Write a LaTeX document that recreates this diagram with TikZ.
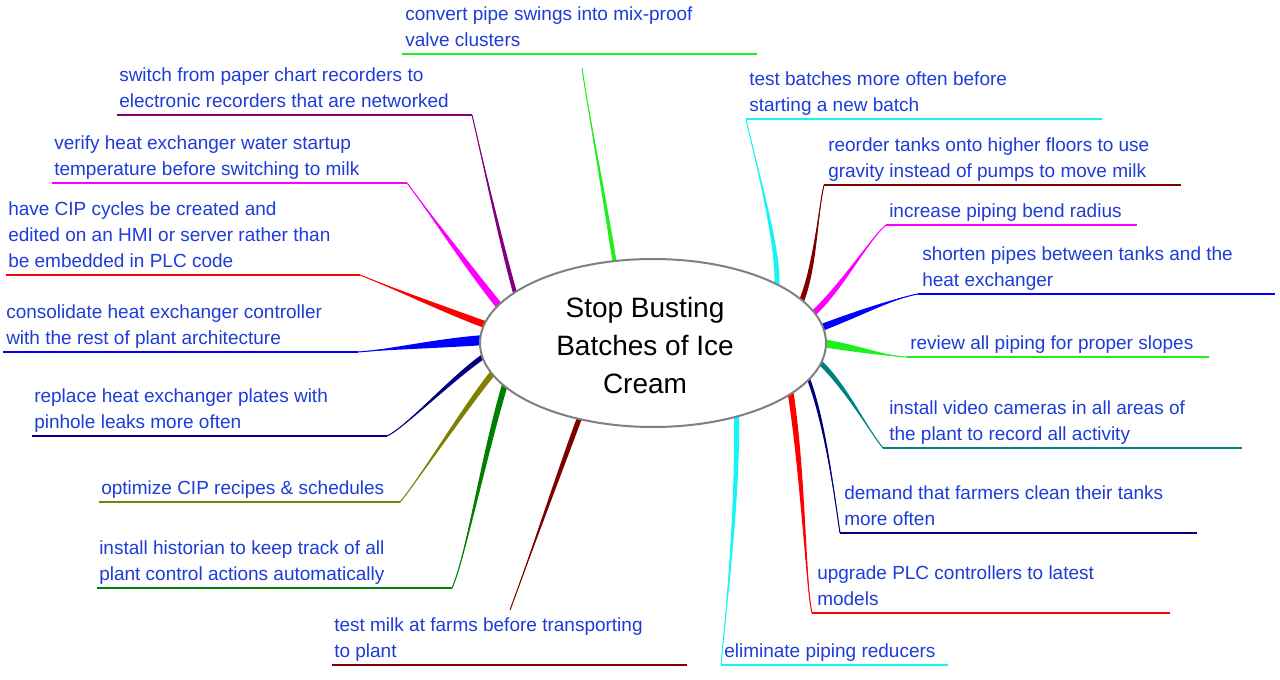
\documentclass[tikz,border=0pt]{standalone}
\usepackage{fontspec}
\setmainfont{Liberation Sans}
\usetikzlibrary{calc,shapes.geometric,backgrounds}
\definecolor{lblblue}{RGB}{30,60,215}
\definecolor{brgreen}{RGB}{30,240,30}
\definecolor{brpurple}{RGB}{128,0,128}
\definecolor{brmagenta}{RGB}{255,0,255}
\definecolor{brred}{RGB}{255,0,0}
\definecolor{brblue}{RGB}{0,0,255}
\definecolor{brnavy}{RGB}{0,0,128}
\definecolor{brolive}{RGB}{128,128,0}
\definecolor{brdkgreen}{RGB}{0,128,0}
\definecolor{brmaroon}{RGB}{128,0,0}
\definecolor{brcyan}{RGB}{20,245,245}
\definecolor{brteal}{RGB}{0,128,128}
\definecolor{hubgray}{RGB}{128,128,128}
% #1 colour, #2 start, #3 control 1, #4 control 2, #5 end, #6 half width
\newcommand\mmbranch[6]{%
  \fill[#1] ($(#2)!#6!90:(#3)$) .. controls ($(#3)!#6!-90:(#2)$) and (#4) .. (#5)
     .. controls (#4) and ($(#3)!#6!90:(#2)$) .. ($(#2)!#6!-90:(#3)$) -- cycle;
  \draw[#1, line width=0.75pt] (#2) .. controls (#3) and (#4) .. (#5);
}
\tikzset{
  lbl/.style={font=\fontsize{14.25pt}{19.5pt}\selectfont, text=lblblue, align=left,
    inner sep=0pt, anchor=south west, execute at end node=\strut},
  uline/.style={line width=1.5pt},
  hub/.style={ellipse, draw=hubgray, line width=1.5pt, fill=white, inner sep=0pt,
    minimum width=259.5pt, minimum height=126pt},
  title/.style={font=\fontsize{21pt}{28.5pt}\selectfont, align=center, inner sep=0pt}
}
\begin{document}
\begin{tikzpicture}[x=0.75pt,y=-0.75pt]
\useasboundingbox (0,0) rectangle (1280,680);

\node[hub] (center) at (653,343) {};
\node[title] (title) at (645,345) {Stop Busting\\Batches of Ice\\Cream};

% underline coordinates
\coordinate (u1a) at (402,54);  \coordinate (u1b) at (757,54);
\coordinate (u2a) at (117,115); \coordinate (u2b) at (472,115);
\coordinate (u3a) at (52,183);  \coordinate (u3b) at (407,183);
\coordinate (u4a) at (6,275);   \coordinate (u4b) at (360,275);
\coordinate (u5a) at (3,352);   \coordinate (u5b) at (358,352);
\coordinate (u6a) at (32,436);  \coordinate (u6b) at (387,436);
\coordinate (u7a) at (99,502);  \coordinate (u7b) at (400,502);
\coordinate (u8a) at (97,588);  \coordinate (u8b) at (452,588);
\coordinate (u9a) at (332,665); \coordinate (u9b) at (687,665);
\coordinate (u10a) at (721,665); \coordinate (u10b) at (948,665);
\coordinate (u11a) at (812,613); \coordinate (u11b) at (1170,613);
\coordinate (u12a) at (840,533); \coordinate (u12b) at (1197,533);
\coordinate (u13a) at (883,448); \coordinate (u13b) at (1242,448);
\coordinate (u14a) at (907,357); \coordinate (u14b) at (1209,357);
\coordinate (u15a) at (918,294); \coordinate (u15b) at (1275,294);
\coordinate (u16a) at (886,225); \coordinate (u16b) at (1137,225);
\coordinate (u17a) at (824,185); \coordinate (u17b) at (1181,185);
\coordinate (u18a) at (746,119); \coordinate (u18b) at (1102,119);
\coordinate (e1) at (582,68);
\coordinate (e9) at (510,610);

% branch start points on the hub
\foreach \i/\a in {1/116.3,2/161.1,3/167.7,4/174.0,5/179.0,6/184.7,7/190.1,8/195.8,9/225.4,
  10/320.5,11/341.0,12/348.1,13/354.7,14/0,15/5.3,16/10.3,17/15.3,18/24.0}
  \coordinate (s\i) at ($(center.\a)!4pt!(center.center)$);

\begin{pgfonlayer}{background}
\fill[white] (0,0) rectangle (1280,680);
\mmbranch{brgreen}{s1}{605,200}{588,110}{e1}{1.5pt}
\mmbranch{brpurple}{s2}{500,240}{478,140}{u2b}{1.5pt}
\mmbranch{brmagenta}{s3}{470,270}{420,200}{u3b}{2.6pt}
\mmbranch{brred}{s4}{450,312}{385,285}{u4b}{2.6pt}
\mmbranch{brblue}{s5}{440,343}{385,350}{u5b}{3.75pt}
\mmbranch{brnavy}{s6}{455,375}{405,428}{u6b}{1.9pt}
\mmbranch{brolive}{s7}{470,400}{415,485}{u7b}{2.2pt}
\mmbranch{brdkgreen}{s8}{485,450}{465,560}{u8b}{2.2pt}
\mmbranch{brmaroon}{s9}{560,470}{525,570}{e9}{1.9pt}
\mmbranch{brcyan}{s10}{738,500}{727,600}{u10a}{1.9pt}
\mmbranch{brred}{s11}{803,470}{806,590}{u11a}{2.2pt}
\mmbranch{brnavy}{s12}{825,420}{835,500}{u12a}{1.2pt}
\mmbranch{brteal}{s13}{845,385}{868,430}{u13a}{1.9pt}
\mmbranch{brgreen}{s14}{855,348}{885,356}{u14a}{3pt}
\mmbranch{brblue}{s15}{855,315}{895,298}{u15a}{2.6pt}
\mmbranch{brmagenta}{s16}{840,290}{870,238}{u16a}{2.2pt}
\mmbranch{brmaroon}{s17}{815,270}{818,210}{u17a}{1.9pt}
\mmbranch{brcyan}{s18}{780,250}{755,160}{u18a}{1.9pt}
\end{pgfonlayer}

% underlines
\draw[uline, brgreen] (u1a) -- (u1b);
\draw[uline, brpurple] (u2a) -- (u2b);
\draw[uline, brmagenta] (u3a) -- (u3b);
\draw[uline, brred] (u4a) -- (u4b);
\draw[uline, brblue] (u5a) -- (u5b);
\draw[uline, brnavy] (u6a) -- (u6b);
\draw[uline, brolive] (u7a) -- (u7b);
\draw[uline, brdkgreen] (u8a) -- (u8b);
\draw[uline, brmaroon] (u9a) -- (u9b);
\draw[uline, brcyan] (u10a) -- (u10b);
\draw[uline, brred] (u11a) -- (u11b);
\draw[uline, brnavy] (u12a) -- (u12b);
\draw[uline, brteal] (u13a) -- (u13b);
\draw[uline, brgreen] (u14a) -- (u14b);
\draw[uline, brblue] (u15a) -- (u15b);
\draw[uline, brmagenta] (u16a) -- (u16b);
\draw[uline, brmaroon] (u17a) -- (u17b);
\draw[uline, brcyan] (u18a) -- (u18b);

% labels
\node[lbl] (l1) at ([shift={(3,1)}]u1a) {convert pipe swings into mix-proof\\valve clusters};
\node[lbl] (l2) at ([shift={(2,1)}]u2a) {switch from paper chart recorders to\\electronic recorders that are networked};
\node[lbl] (l3) at ([shift={(2,1)}]u3a) {verify heat exchanger water startup\\temperature before switching to milk};
\node[lbl] (l4) at ([shift={(2,1)}]u4a) {have CIP cycles be created and\\edited on an HMI or server rather than\\be embedded in PLC code};
\node[lbl] (l5) at ([shift={(3,1)}]u5a) {consolidate heat exchanger controller\\with the rest of plant architecture};
\node[lbl] (l6) at ([shift={(2,1)}]u6a) {replace heat exchanger plates with\\pinhole leaks more often};
\node[lbl] (l7) at ([shift={(2,1)}]u7a) {optimize CIP recipes \& schedules};
\node[lbl] (l8) at ([shift={(2,1)}]u8a) {install historian to keep track of all\\plant control actions automatically};
\node[lbl] (l9) at ([shift={(2,1)}]u9a) {test milk at farms before transporting\\to plant};
\node[lbl] (l10) at ([shift={(3,1)}]u10a) {eliminate piping reducers};
\node[lbl] (l11) at ([shift={(5,1)}]u11a) {upgrade PLC controllers to latest\\models};
\node[lbl] (l12) at ([shift={(4,1)}]u12a) {demand that farmers clean their tanks\\more often};
\node[lbl] (l13) at ([shift={(6,1)}]u13a) {install video cameras in all areas of\\the plant to record all activity};
\node[lbl] (l14) at ([shift={(3,1)}]u14a) {review all piping for proper slopes};
\node[lbl] (l15) at ([shift={(4,1)}]u15a) {shorten pipes between tanks and the\\heat exchanger};
\node[lbl] (l16) at ([shift={(3,1)}]u16a) {increase piping bend radius};
\node[lbl] (l17) at ([shift={(4,1)}]u17a) {reorder tanks onto higher floors to use\\gravity instead of pumps to move milk};
\node[lbl] (l18) at ([shift={(3,1)}]u18a) {test batches more often before\\starting a new batch};
\end{tikzpicture}
\end{document}
